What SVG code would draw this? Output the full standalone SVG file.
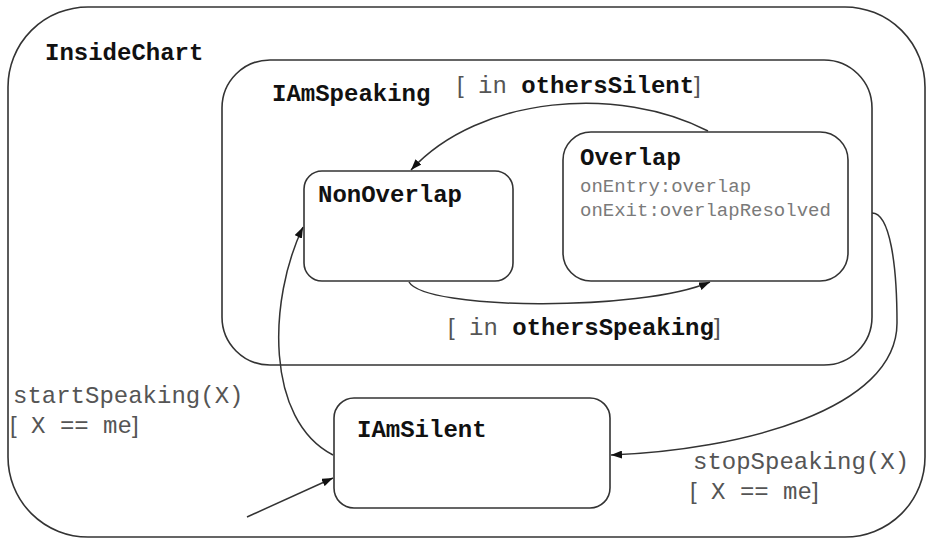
<svg xmlns="http://www.w3.org/2000/svg" width="927" height="540" viewBox="0 0 927 540">
  <style>
    .state { fill: #ffffff; stroke: #333333; stroke-width: 1.6; }
    .name { font-family: "Liberation Mono", "Courier New", monospace; font-weight: bold; font-size: 24px; fill: #111111; }
    .act { font-family: "Liberation Mono", "Courier New", monospace; font-size: 19px; fill: #7a7a7a; }
    .lbl { font-family: "Liberation Mono", "Courier New", monospace; font-size: 24px; fill: #555555; }
    .lbl .b { font-weight: bold; fill: #111111; }
    .lbl .br { font-family: "Liberation Sans", Arial, sans-serif; fill: #555555; }
    .edge { fill: none; stroke: #333333; stroke-width: 1.5; }
  </style>
  <defs>
    <marker id="arrow" markerUnits="userSpaceOnUse" markerWidth="11" markerHeight="8" refX="11" refY="4" orient="auto">
      <path d="M0,0 L11,4 L0,8 z" fill="#111111"/>
    </marker>
  </defs>
  <rect width="927" height="540" fill="#ffffff"/>

  <g id="InsideChart">
    <rect class="state" x="8" y="7" width="917" height="530" rx="80" ry="80"/>
    <text class="name" x="45" y="60">InsideChart</text>
  </g>

  <g id="IAmSpeaking">
    <rect class="state" x="222" y="60" width="650" height="305" rx="48" ry="48"/>
    <text class="name" x="272" y="101">IAmSpeaking</text>
  </g>

  <g id="NonOverlap">
    <rect class="state" x="304" y="171" width="209" height="110" rx="18" ry="18"/>
    <text class="name" x="318" y="202">NonOverlap</text>
  </g>

  <g id="Overlap">
    <rect class="state" x="563" y="132" width="285" height="149" rx="28" ry="28"/>
    <text class="name" x="580" y="165">Overlap</text>
    <text class="act" x="580" y="192">onEntry:overlap</text>
    <text class="act" x="580" y="216">onExit:overlapResolved</text>
  </g>

  <g id="IAmSilent">
    <rect class="state" x="334" y="398" width="276" height="110" rx="20" ry="20"/>
    <text class="name" x="357" y="437">IAmSilent</text>
  </g>

  <g id="connectors">
    <!-- Overlap -> NonOverlap -->
    <path class="edge" d="M 708 131 C 620 85, 480 95, 411 170" marker-end="url(#arrow)"/>
    <!-- NonOverlap -> Overlap -->
    <path class="edge" d="M 409 282 C 425 310, 640 312, 710 282" marker-end="url(#arrow)"/>
    <!-- IAmSpeaking -> IAmSilent -->
    <path class="edge" d="M 872 213 C 890 213, 897 265, 897 323 C 897 410, 740 450, 611 455" marker-end="url(#arrow)"/>
    <!-- IAmSilent -> NonOverlap -->
    <path class="edge" d="M 333 455 C 265 420, 268 300, 303 227" marker-end="url(#arrow)"/>
    <!-- initial transition -->
    <path class="edge" d="M 247 517 L 333 478" marker-end="url(#arrow)"/>

    <text class="lbl" x="457" y="93"><tspan class="br">[</tspan> in <tspan class="b">othersSilent</tspan><tspan class="br">]</tspan></text>
    <text class="lbl" x="448" y="335"><tspan class="br">[</tspan> in <tspan class="b">othersSpeaking</tspan><tspan class="br">]</tspan></text>
    <text class="lbl" x="13" y="403">startSpeaking(X)</text>
    <text class="lbl" x="10" y="433"><tspan class="br">[</tspan> X == me<tspan class="br">]</tspan></text>
    <text class="lbl" x="693" y="469">stopSpeaking(X)</text>
    <text class="lbl" x="690" y="499"><tspan class="br">[</tspan> X == me<tspan class="br">]</tspan></text>
  </g>
</svg>
